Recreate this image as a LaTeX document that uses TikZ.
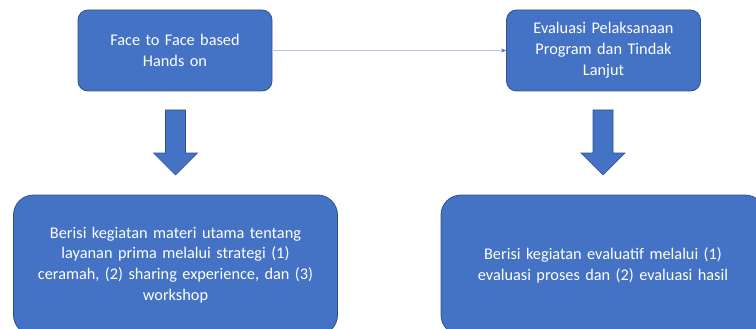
\documentclass[tikz,border=0pt]{standalone}
\usepackage{fontspec}
\setmainfont{Carlito}
\usetikzlibrary{arrows.meta}
\definecolor{boxblue}{HTML}{4472C4}
\definecolor{boxline}{HTML}{2F528F}
\definecolor{linkblue}{HTML}{B4C7E7}
\begin{document}
\begin{tikzpicture}[
		x=1pt, y=-1pt,
		box/.style={draw=boxline, fill=boxblue, text=white, line width=0.8pt, rounded corners=10pt, align=center, inner sep=0pt, font=\fontsize{16.3}{20.8}\selectfont},
		smallbox/.style={box, minimum width=194pt, minimum height=81pt, text width=185pt},
		bigbox/.style={box, rounded corners=20pt, minimum width=324pt, minimum height=140pt, text width=318pt},
		blockarrow/.style={fill=boxblue, draw=boxline, line width=0.6pt}
		]
		\useasboundingbox (0,0) rectangle (756,329);
		\clip (0,0) rectangle (756,329);
		\node[smallbox] (handson) at (175,50.5) {Face to Face based\\Hands on};
		\node[smallbox] (evaluasi) at (603.5,50.5) {Evaluasi Pelaksanaan\\Program dan Tindak\\Lanjut};
		\node[bigbox] (materi) at (175.5,265) {Berisi kegiatan materi utama tentang\\layanan prima melalui strategi (1)\\ceramah, (2) sharing experience, dan (3)\\workshop};
		\node[bigbox] (evaluatif) at (603,265) {Berisi kegiatan evaluatif melalui (1)\\evaluasi proses dan (2) evaluasi hasil};
		\draw[linkblue, line width=1pt, -{Stealth[length=5pt, width=4pt, color=boxblue]}] (handson) -- (evaluasi);
		\foreach \ax in {175.5,603}
			\filldraw[blockarrow] (\ax-10,110) -- (\ax+10,110) -- (\ax+10,153) -- (\ax+22,153) -- (\ax,175) -- (\ax-22,153) -- (\ax-10,153) -- cycle;
	\end{tikzpicture}
\end{document}
